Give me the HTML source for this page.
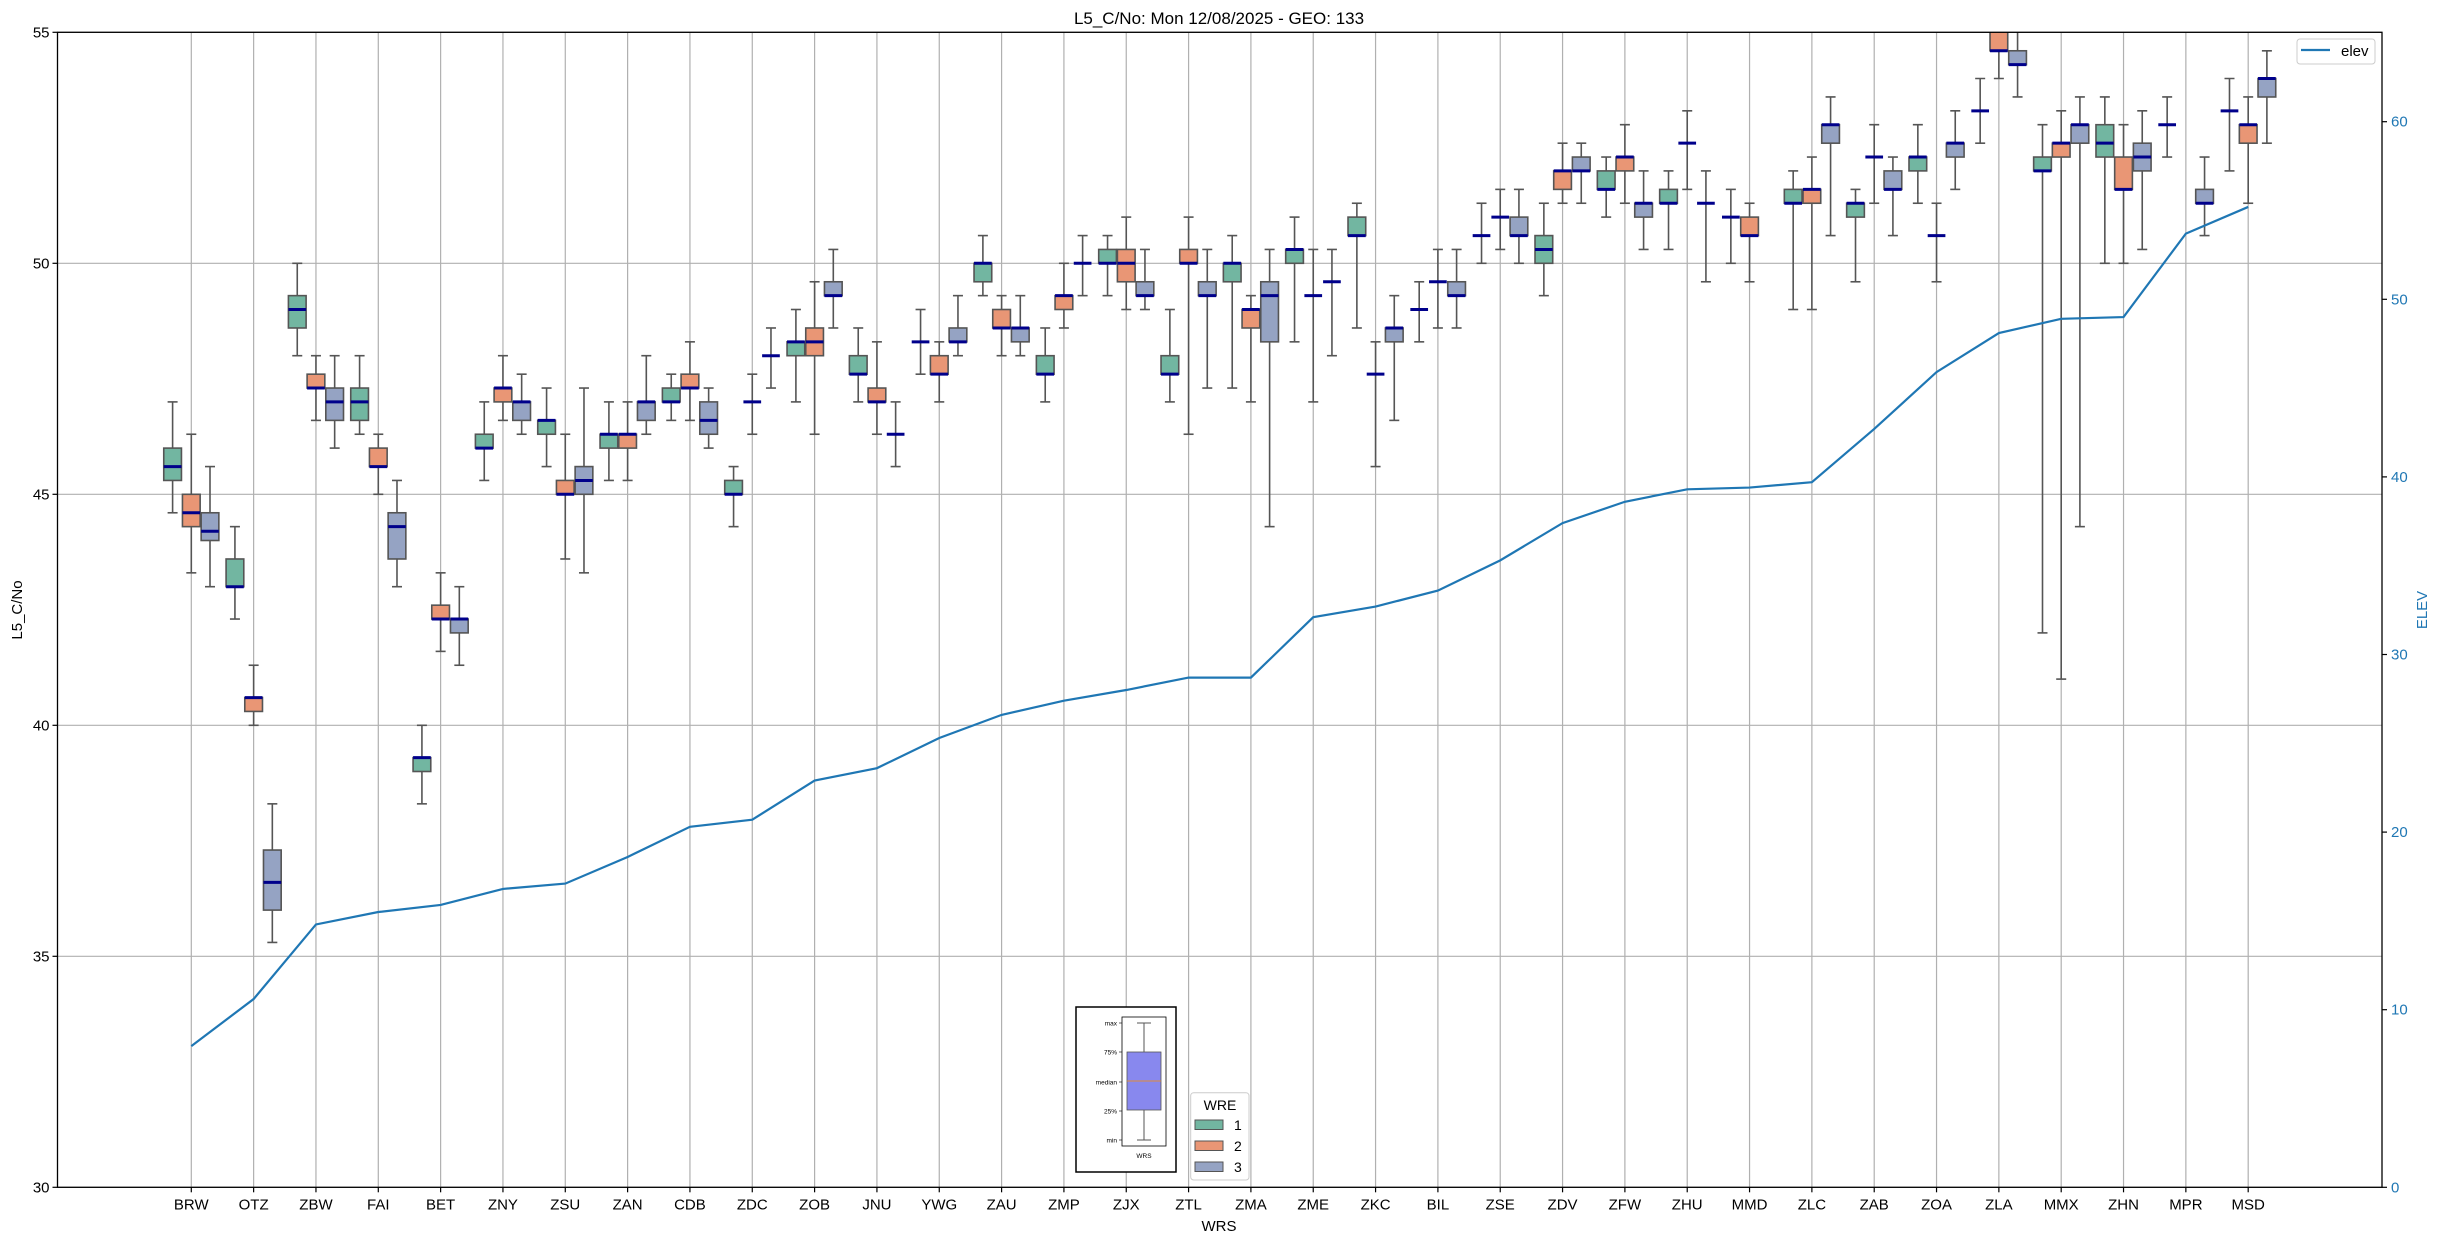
<!DOCTYPE html>
<html><head><meta charset="utf-8"><style>
html,body{margin:0;padding:0;background:#fff}
svg{display:block;font-family:"Liberation Sans","DejaVu Sans",sans-serif}
</style></head><body>
<svg id="s" width="2438" height="1240" xmlns="http://www.w3.org/2000/svg">
<rect width="2438" height="1240" fill="#fff"/>
</svg>
<script>
const L=57.5,R=2382,T=32.3,B=1187.3;
const yv=v=>B-(v-30)*46.2;
const ye=e=>B-e*17.76;
const X0=191.3,DX=62.33,BW=18.7;
const cats=["BRW","OTZ","ZBW","FAI","BET","ZNY","ZSU","ZAN","CDB","ZDC","ZOB","JNU","YWG","ZAU","ZMP","ZJX","ZTL","ZMA","ZME","ZKC","BIL","ZSE","ZDV","ZFW","ZHU","MMD","ZLC","ZAB","ZOA","ZLA","MMX","ZHN","MPR","MSD"];
// [lo,q1,med,q3,hi] ; 3-element = median only [lo,med,hi]
const D=[
[[44.6,45.3,45.6,46.0,47.0],[43.3,44.3,44.6,45.0,46.3],[43.0,44.0,44.2,44.6,45.6]],
[[42.3,43.0,43.0,43.6,44.3],[40.0,40.3,40.6,40.6,41.3],[35.3,36.0,36.6,37.3,38.3]],
[[48.0,48.6,49.0,49.3,50.0],[46.6,47.3,47.3,47.6,48.0],[46.0,46.6,47.0,47.3,48.0]],
[[46.3,46.6,47.0,47.3,48.0],[45.0,45.6,45.6,46.0,46.3],[43.0,43.6,44.3,44.6,45.3]],
[[38.3,39.0,39.3,39.3,40.0],[41.6,42.3,42.3,42.6,43.3],[41.3,42.0,42.3,42.3,43.0]],
[[45.3,46.0,46.0,46.3,47.0],[46.6,47.0,47.3,47.3,48.0],[46.3,46.6,47.0,47.0,47.6]],
[[45.6,46.3,46.6,46.6,47.3],[43.6,45.0,45.0,45.3,46.3],[43.3,45.0,45.3,45.6,47.3]],
[[45.3,46.0,46.3,46.3,47.0],[45.3,46.0,46.3,46.3,47.0],[46.3,46.6,47.0,47.0,48.0]],
[[46.6,47.0,47.0,47.3,47.6],[46.6,47.3,47.3,47.6,48.3],[46.0,46.3,46.6,47.0,47.3]],
[[44.3,45.0,45.0,45.3,45.6],[46.3,47.0,47.6],[47.3,48.0,48.6]],
[[47.0,48.0,48.3,48.3,49.0],[46.3,48.0,48.3,48.6,49.6],[48.6,49.3,49.3,49.6,50.3]],
[[47.0,47.6,47.6,48.0,48.6],[46.3,47.0,47.0,47.3,48.3],[45.6,46.3,47.0]],
[[47.6,48.3,49.0],[47.0,47.6,47.6,48.0,48.3],[48.0,48.3,48.3,48.6,49.3]],
[[49.3,49.6,50.0,50.0,50.6],[48.0,48.6,48.6,49.0,49.3],[48.0,48.3,48.6,48.6,49.3]],
[[47.0,47.6,47.6,48.0,48.6],[48.6,49.0,49.3,49.3,50.0],[49.3,50.0,50.6]],
[[49.3,50.0,50.0,50.3,50.6],[49.0,49.6,50.0,50.3,51.0],[49.0,49.3,49.3,49.6,50.3]],
[[47.0,47.6,47.6,48.0,49.0],[46.3,50.0,50.0,50.3,51.0],[47.3,49.3,49.3,49.6,50.3]],
[[47.3,49.6,50.0,50.0,50.6],[47.0,48.6,49.0,49.0,49.3],[44.3,48.3,49.3,49.6,50.3]],
[[48.3,50.0,50.3,50.3,51.0],[47.0,49.3,50.3],[48.0,49.6,50.3]],
[[48.6,50.6,50.6,51.0,51.3],[45.6,47.6,48.3],[46.6,48.3,48.6,48.6,49.3]],
[[48.3,49.0,49.6],[48.6,49.6,50.3],[48.6,49.3,49.3,49.6,50.3]],
[[50.0,50.6,51.3],[50.3,51.0,51.6],[50.0,50.6,50.6,51.0,51.6]],
[[49.3,50.0,50.3,50.6,51.3],[51.3,51.6,52.0,52.0,52.6],[51.3,52.0,52.0,52.3,52.6]],
[[51.0,51.6,51.6,52.0,52.3],[51.3,52.0,52.3,52.3,53.0],[50.3,51.0,51.3,51.3,52.0]],
[[50.3,51.3,51.3,51.6,52.0],[51.6,52.6,53.3],[49.6,51.3,52.0]],
[[50.0,51.0,51.6],[49.6,50.6,50.6,51.0,51.3],null],
[[49.0,51.3,51.3,51.6,52.0],[49.0,51.3,51.6,51.6,52.3],[50.6,52.6,53.0,53.0,53.6]],
[[49.6,51.0,51.3,51.3,51.6],[51.3,52.3,53.0],[50.6,51.6,51.6,52.0,52.3]],
[[51.3,52.0,52.3,52.3,53.0],[49.6,50.6,51.3],[51.6,52.3,52.6,52.6,53.3]],
[[52.6,53.3,54.0],[54.0,54.6,54.6,55.4,56.0],[53.6,54.3,54.3,54.6,55.3]],
[[42.0,52.0,52.0,52.3,53.0],[41.0,52.3,52.6,52.6,53.3],[44.3,52.6,53.0,53.0,53.6]],
[[50.0,52.3,52.6,53.0,53.6],[50.0,51.6,51.6,52.3,53.0],[50.3,52.0,52.3,52.6,53.3]],
[[52.3,53.0,53.6],null,[50.6,51.3,51.3,51.6,52.3]],
[[52.0,53.3,54.0],[51.3,52.6,53.0,53.0,53.6],[52.6,53.6,54.0,54.0,54.6]]
];
const elev=[7.95,10.6,14.8,15.5,15.9,16.8,17.1,18.6,20.3,20.7,22.9,23.6,25.3,26.6,27.4,28.0,28.7,28.7,32.1,32.7,33.6,35.3,37.4,38.6,39.3,39.4,39.7,42.7,45.9,48.1,48.9,49.0,53.7,55.2];
const cols=["#72b6a1","#e99675","#95a3c3"];
let h='';
h+='<defs><clipPath id="c"><rect x="'+L+'" y="'+T+'" width="'+(R-L)+'" height="'+(B-T)+'"/></clipPath></defs>';
// grid
for(let v=30;v<=55;v+=5){h+=`<line x1="${L}" x2="${R}" y1="${yv(v)}" y2="${yv(v)}" stroke="#b0b0b0" stroke-width="1.2"/>`;}
cats.forEach((c,i)=>{const x=X0+i*DX;h+=`<line x1="${x}" x2="${x}" y1="${T}" y2="${B}" stroke="#b0b0b0" stroke-width="1.2"/>`;});
// boxes
h+='<g clip-path="url(#c)">';
D.forEach((g,i)=>{g.forEach((b,k)=>{if(!b)return;const cx=X0+i*DX+(k-1)*BW;let lo,q1,md,q3,hi;
if(b.length==3){[lo,md,hi]=b;q1=q3=md;}else [lo,q1,md,q3,hi]=b;
const ew="#555";
h+=`<line x1="${cx}" x2="${cx}" y1="${yv(hi)}" y2="${yv(q3)}" stroke="${ew}" stroke-width="1.6"/>`;
h+=`<line x1="${cx}" x2="${cx}" y1="${yv(q1)}" y2="${yv(lo)}" stroke="${ew}" stroke-width="1.6"/>`;
h+=`<line x1="${cx-5}" x2="${cx+5}" y1="${yv(hi)}" y2="${yv(hi)}" stroke="${ew}" stroke-width="1.6"/>`;
h+=`<line x1="${cx-5}" x2="${cx+5}" y1="${yv(lo)}" y2="${yv(lo)}" stroke="${ew}" stroke-width="1.6"/>`;
if(q3>q1)h+=`<rect x="${cx-BW/2+0.5}" y="${yv(q3)}" width="${BW-1}" height="${yv(q1)-yv(q3)}" fill="${cols[k]}" stroke="${ew}" stroke-width="1.6"/>`;
h+=`<line x1="${cx-BW/2+0.5}" x2="${cx+BW/2-0.5}" y1="${yv(md)}" y2="${yv(md)}" stroke="#00008b" stroke-width="3"/>`;
});});
// elev line
h+='<polyline fill="none" stroke="#1f77b4" stroke-width="2.2" points="'+elev.map((e,i)=>(X0+i*DX)+','+ye(e)).join(' ')+'"/>';
h+='</g>';
// axes frame
h+=`<rect x="${L}" y="${T}" width="${R-L}" height="${B-T}" fill="none" stroke="#000" stroke-width="1.3"/>`;
// left ticks
for(let v=30;v<=55;v+=5){const y=yv(v);h+=`<line x1="${L-5}" x2="${L}" y1="${y}" y2="${y}" stroke="#000" stroke-width="1.2"/><text x="${L-8}" y="${y+5}" font-size="15" text-anchor="end">${v}</text>`;}
// right ticks
for(let e=0;e<=60;e+=10){const y=ye(e);h+=`<line x1="${R}" x2="${R+5}" y1="${y}" y2="${y}" stroke="#000" stroke-width="1.2"/><text x="${R+9}" y="${y+5}" font-size="15" fill="#1f77b4">${e}</text>`;}
// bottom ticks
cats.forEach((c,i)=>{const x=X0+i*DX;h+=`<line x1="${x}" x2="${x}" y1="${B}" y2="${B+5}" stroke="#000" stroke-width="1.2"/><text x="${x}" y="${B+22}" font-size="15" text-anchor="middle">${c}</text>`;});
h+=`<text x="1219" y="24" font-size="17" text-anchor="middle">L5_C/No: Mon 12/08/2025 - GEO: 133</text>`;
h+=`<text x="1219" y="1231" font-size="15" text-anchor="middle">WRS</text>`;
h+=`<text transform="translate(22,610) rotate(-90)" font-size="15" text-anchor="middle">L5_C/No</text>`;
h+=`<text transform="translate(2427,610) rotate(-90)" font-size="15" text-anchor="middle" fill="#1f77b4">ELEV</text>`;
// elev legend
h+=`<rect x="2297" y="39" width="78" height="25" rx="3" fill="#fff" fill-opacity="0.8" stroke="#ccc"/><line x1="2301" x2="2330" y1="50" y2="50" stroke="#1f77b4" stroke-width="2.2"/><text x="2341" y="56" font-size="15">elev</text>`;
// WRE legend
h+=`<rect x="1190.7" y="1092.7" width="58.3" height="87.3" rx="3" fill="#fff" fill-opacity="0.8" stroke="#ccc"/><text x="1220" y="1110" font-size="14" text-anchor="middle">WRE</text>`;
[1125,1146,1167].forEach((y,k)=>{h+=`<rect x="1195" y="${y-5}" width="28" height="9.5" fill="${cols[k]}" stroke="#555" stroke-width="1"/><text x="1234" y="${y+5}" font-size="14">${k+1}</text>`;});
// inset
h+=`<rect x="1076" y="1007" width="100" height="165" fill="#fff" stroke="#000" stroke-width="1.5"/>`;
h+=`<rect x="1122" y="1017" width="44" height="129" fill="#fff" stroke="#000" stroke-width="0.8"/>`;
h+=`<line x1="1144" x2="1144" y1="1023" y2="1140" stroke="#555" stroke-width="1"/><line x1="1137" x2="1151" y1="1023" y2="1023" stroke="#555"/><line x1="1137" x2="1151" y1="1140" y2="1140" stroke="#555"/>`;
h+=`<rect x="1127" y="1052" width="34" height="58" fill="#8888ee" stroke="#555" stroke-width="0.8"/><line x1="1127" x2="1161" y1="1081" y2="1081" stroke="#ff8c00" stroke-width="0.8"/>`;
[["max",1023],["75%",1052],["median",1082],["25%",1111],["min",1140]].forEach(([t,y])=>{h+=`<line x1="1119" x2="1122" y1="${y}" y2="${y}" stroke="#000" stroke-width="0.6"/><text x="1117" y="${y+2.5}" font-size="6.5" text-anchor="end">${t}</text>`;});
h+=`<text x="1144" y="1158" font-size="6.5" text-anchor="middle">WRS</text>`;
document.getElementById('s').insertAdjacentHTML('beforeend',h);
</script>
</body></html>
